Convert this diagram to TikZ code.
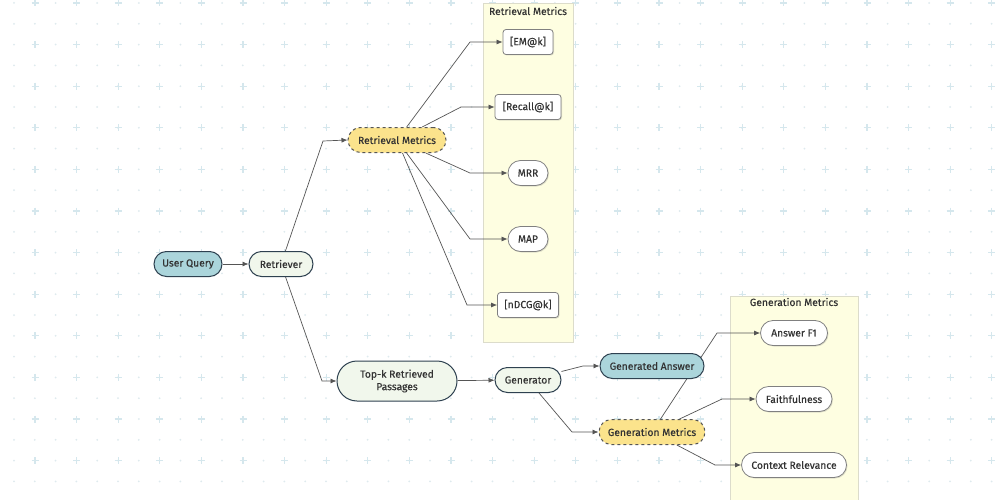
\documentclass[tikz,border=0pt]{standalone}
\usepackage{fontspec}
\setmainfont{Fira Sans}[FakeBold=0.35]
\usetikzlibrary{arrows.meta,shadows,backgrounds}
\definecolor{gridplus}{HTML}{D5E7ED}
\definecolor{griddot}{HTML}{DEEAEE}
\definecolor{nodeborder}{HTML}{2E4150}
\definecolor{tealfill}{HTML}{ABD5DB}
\definecolor{greenfill}{HTML}{F1F7EC}
\definecolor{yellowfill}{HTML}{FBE38C}
\definecolor{clusterfill}{HTML}{FEFEE1}
\definecolor{clusterborder}{HTML}{DCDCCB}
\definecolor{edgec}{HTML}{555555}
\definecolor{textc}{HTML}{333333}
\pgfdeclarelayer{gridlayer}
\pgfsetlayers{gridlayer,background,main}
\tikzset{
  basefont/.style={font=\fontsize{10.3}{12.5}\selectfont, text=textc},
  pill/.style={basefont, draw=nodeborder, line width=1pt, rounded corners=12.5pt,
    minimum height=25pt, inner xsep=2pt, inner ysep=2pt},
  tealpill/.style={pill, fill=tealfill},
  greenpill/.style={pill, fill=greenfill},
  yellowpill/.style={pill, fill=yellowfill, dashed, draw=edgec},
  metricbox/.style={basefont, draw=gray, line width=0.8pt, fill=white, rounded corners=3pt,
    minimum height=25pt, inner xsep=2pt,
    drop shadow={opacity=0.25, shadow xshift=1pt, shadow yshift=-1pt}},
  metricpill/.style={metricbox, rounded corners=12.5pt},
  edge/.style={draw=edgec, line width=0.7pt, -{Latex[length=6pt,width=5pt]}},
  cluster/.style={fill=clusterfill, draw=clusterborder, line width=0.8pt},
  clustertitle/.style={basefont}
}
\begin{document}
\begin{tikzpicture}[x=1pt,y=-1pt]
\useasboundingbox (0,0) rectangle (1000,500);
\begin{pgfonlayer}{gridlayer}
\fill[white] (0,0) rectangle (1000,500);
\foreach \i in {0,...,47}{
  \foreach \j in {0,...,23}{
    \pgfmathsetmacro\xx{14+20.8*\i}
    \pgfmathsetmacro\yy{3+20.8*\j}
    \fill[griddot] (\xx,\yy) circle (1);
  }
}
\foreach \i in {0,...,23}{
  \foreach \j in {0,...,11}{
    \pgfmathsetmacro\xx{35+41.6*\i}
    \pgfmathsetmacro\yy{3+41.6*\j}
    \draw[gridplus, line width=1.1pt] (\xx-3.5,\yy) -- (\xx+3.5,\yy) (\xx,\yy-3.5) -- (\xx,\yy+3.5);
  }
}
\draw[cluster] (483,3) rectangle (573,342);
\node[clustertitle] (rmtitle) at (528,11) {Retrieval Metrics};
\draw[cluster] (730,296) rectangle (858,503);
\node[clustertitle] (gmtitle) at (794,302) {Generation Metrics};
\end{pgfonlayer}

% main nodes
\node[tealpill, minimum width=68pt] (uq) at (188,264) {User Query};
\node[greenpill, minimum width=64pt] (ret) at (281,264) {Retriever};
\node[yellowpill, minimum width=98pt] (rm) at (397,140) {Retrieval Metrics};
\node[greenpill, minimum width=120pt, minimum height=40pt, rounded corners=20pt, align=center] (topk) at (397,381) {Top-k Retrieved\\Passages};
\node[greenpill, minimum width=66pt] (gen) at (528,380) {Generator};
\node[tealpill, minimum width=104pt] (ans) at (652,366) {Generated Answer};
\node[yellowpill, minimum width=106pt] (gm) at (652,432) {Generation Metrics};

% retrieval metrics
\node[metricbox, minimum width=50pt] (em) at (528,42) {[EM@k]};
\node[metricbox, minimum width=66pt] (recall) at (528,107) {[Recall@k]};
\node[metricpill, minimum width=40pt] (mrr) at (528,173) {MRR};
\node[metricpill, minimum width=40pt] (map) at (528,239) {MAP};
\node[metricbox, minimum width=61pt] (ndcg) at (528,305) {[nDCG@k]};

% generation metrics
\node[metricpill, minimum width=67pt] (f1) at (794,333) {Answer F1};
\node[metricpill, minimum width=76pt] (faith) at (794,399) {Faithfulness};
\node[metricpill, minimum width=105pt] (cr) at (794,465) {Context Relevance};

\begin{pgfonlayer}{background}
\draw[edge] (uq) -- (ret);
\draw[edge] (ret) -- (323,141) -- (rm.west);
\draw[edge] (ret) -- (322,381) -- (topk.west);
\draw[edge] (rm) -- (470,42) -- (em.west);
\draw[edge] (rm) -- (461,107) -- (recall.west);
\draw[edge] (rm) -- (470,173) -- (mrr.west);
\draw[edge] (rm) -- (470,239) -- (map.west);
\draw[edge] (rm) -- (467,305) -- (ndcg.west);
\draw[edge] (topk) -- (gen);
\draw[edge] (gen) -- (583,366) -- (ans.west);
\draw[edge] (gen) -- (572,432) -- (gm.west);
\draw[edge] (gm) -- (717,333) -- (f1.west);
\draw[edge] (gm) -- (722,399) -- (faith.west);
\draw[edge] (gm) -- (715,465) -- (cr.west);
\end{pgfonlayer}
\end{tikzpicture}
\end{document}
